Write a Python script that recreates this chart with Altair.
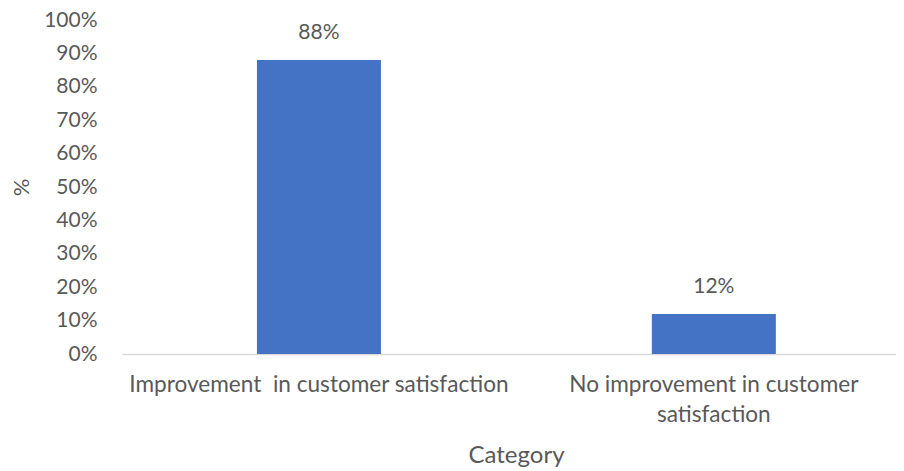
import altair as alt
import pandas as pd

categories = ["Improvement  in customer satisfaction", "No improvement in customer satisfaction"]
values = [0.88, 0.12]
labels = ["88%", "12%"]

df = pd.DataFrame({"category": categories, "value": values, "label": labels})

FONT = "Lato"
GREY = "#595959"

base = alt.Chart(df).encode(
    x=alt.X(
        "category:N",
        sort=categories,
        title="Category",
        scale=alt.Scale(paddingInner=0.686, paddingOuter=0.323, align=0.529),
        axis=alt.Axis(
            labelAngle=0,
            labelExpr="datum.value == 'No improvement in customer satisfaction' ? ['No improvement in customer', 'satisfaction'] : replace(datum.value, '  ', '\u00a0 ')",
            labelFontSize=22.6,
            labelFont=FONT,
            labelColor=GREY,
            labelPadding=19,
            labelLineHeight=30,
            ticks=False,
            domainColor="#d9d9d9",
            domainWidth=1.5,
            titleFontSize=24,
            titleFont=FONT,
            titleColor=GREY,
            titleFontWeight="normal",
            titlePadding=18,
            titleX=394,
            labelLimit=0,
        ),
    ),
    y=alt.Y(
        "value:Q",
        title="%",
        scale=alt.Scale(domain=[0, 1]),
        axis=alt.Axis(
            format=".0%",
            values=[0, 0.1, 0.2, 0.3, 0.4, 0.5, 0.6, 0.7, 0.8, 0.9, 1.0],
            grid=False,
            domain=False,
            ticks=False,
            labelFontSize=21,
            labelFont=FONT,
            labelColor=GREY,
            labelPadding=25,
            titleFontSize=22,
            titleFont=FONT,
            titleColor=GREY,
            titleFontWeight="normal",
            titlePadding=10,
        ),
    ),
)

bars = base.mark_bar(color="#4472C4")
text = base.mark_text(dy=-17, fontSize=21, font=FONT, color=GREY, baseline="bottom").encode(text="label:N")

chart = (bars + text).properties(
    width=774,
    height=334,
    autosize=alt.AutoSizeParams(type="none"),
    padding={"left": 114, "top": 12, "right": 0, "bottom": 117},
).configure_view(stroke=None)

chart.save("out.html", embed_options={"renderer": "svg", "actions": False})
